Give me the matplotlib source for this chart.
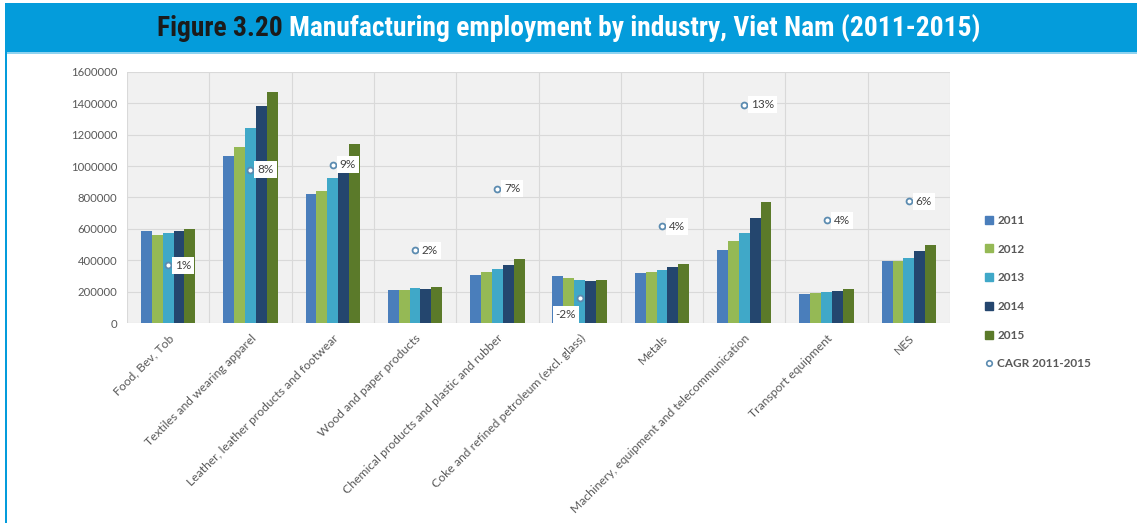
import matplotlib
matplotlib.use("Agg")
import matplotlib.pyplot as plt
from matplotlib.patches import Rectangle
from matplotlib.lines import Line2D
from matplotlib.ticker import FuncFormatter, MultipleLocator
from matplotlib import font_manager
import numpy as np

# ---- data -------------------------------------------------------------
industries = [
    "Food, Bev, Tob",
    "Textiles and wearing apparel",
    "Leather, leather products and footwear",
    "Wood and paper products",
    "Chemical products and plastic and rubber",
    "Coke and refined petroleum (excl. glass)",
    "Metals",
    "Machinery, equipment and telecommunication",
    "Transport equipment",
    "NES",
]
years = ["2011", "2012", "2013", "2014", "2015"]

emp_2011 = [586000, 1067000, 821000, 213000, 309000, 301000, 320000, 467000, 183000, 397000]
emp_2012 = [561000, 1120000, 840000, 209000, 326000, 288000, 324000, 523000, 192000, 397000]
emp_2013 = [576000, 1246000, 924000, 222000, 346000, 275000, 335000, 574000, 196000, 416000]
emp_2014 = [584000, 1382000, 1000000, 218000, 371000, 269000, 356000, 670000, 205000, 459000]
emp_2015 = [597000, 1474000, 1139000, 232000, 405000, 275000, 375000, 774000, 218000, 497000]

# compound annual growth rate 2011-2015 (fraction)
cagr = [0.006, 0.082, 0.086, 0.018, 0.067, -0.020, 0.037, 0.134, 0.042, 0.057]

series = [emp_2011, emp_2012, emp_2013, emp_2014, emp_2015]
bar_colors = ["#4a7ebb", "#95b955", "#40a8c8", "#24466e", "#5b7a2a"]
cagr_label = "CAGR 2011-2015"

# ---- styling ----------------------------------------------------------
BLUE = "#049cdb"
GREY = "#595959"
FONT = ["Lato", "DejaVu Sans"]
plt.rcParams["font.family"] = FONT


def first_available(candidates):
    for name in candidates:
        try:
            font_manager.findfont(font_manager.FontProperties(family=name),
                                  fallback_to_default=False)
            return name
        except Exception:
            continue
    return "DejaVu Sans"


title_family = first_available(["Liberation Sans Narrow", "Roboto Condensed",
                                "Open Sans Condensed", "DejaVu Sans Condensed",
                                "Noto Sans Condensed", "Roboto", "Open Sans"])

W, H = 1137, 523
fig = plt.figure(figsize=(W / 100, H / 100), dpi=100)

# header band and left rule
fig.patches.append(Rectangle((5 / W, 1 - 52 / H), 1 - 5 / W, 49 / H,
                             transform=fig.transFigure, facecolor=BLUE,
                             edgecolor="none", zorder=0))
fig.patches.append(Rectangle((5 / W, 0), 2.2 / W, 1 - 52 / H,
                             transform=fig.transFigure, facecolor=BLUE,
                             edgecolor="none", zorder=0))
fig.patches.append(Rectangle((7 / W, 1 - 53.5 / H), 1 - 7 / W, 1.5 / H,
                             transform=fig.transFigure, facecolor="#8fd3f0",
                             edgecolor="none", zorder=0))

# two-colour title, centred as a whole and fitted to the band
part1 = "Figure 3.20 "
part2 = "Manufacturing employment by industry, Viet Nam (2011-2015)"
ty = 1 - 28 / H
title_size = 20
t1 = fig.text(0, ty, part1, color="#1b1b1b", va="center", ha="left",
              family=[title_family, "DejaVu Sans"], fontsize=title_size,
              fontweight="bold")
t2 = fig.text(0, ty, part2, color="white", va="center", ha="left",
              family=[title_family, "DejaVu Sans"], fontsize=title_size,
              fontweight="bold")
renderer = fig.canvas.get_renderer()
total = (t1.get_window_extent(renderer).width
         + t2.get_window_extent(renderer).width)
target = 822.0
if total > target:
    title_size = title_size * target / total
    t1.set_fontsize(title_size)
    t2.set_fontsize(title_size)
w1 = t1.get_window_extent(renderer).width
w2 = t2.get_window_extent(renderer).width
x0 = 569 - (w1 + w2) / 2
t1.set_x(x0 / W)
t2.set_x((x0 + w1) / W)

# ---- main axes --------------------------------------------------------
ax = fig.add_axes([127 / W, 1 - 323 / H, (950 - 127) / W, (323 - 72) / H])
ax.set_facecolor("#f1f1f1")
x = np.arange(len(industries))
bw = 0.132
for i, (vals, col, yr) in enumerate(zip(series, bar_colors, years)):
    ax.bar(x + (i - 2) * bw, vals, width=bw, color=col, label=yr, zorder=2)

ax.set_xlim(-0.5, len(industries) - 0.5)
ax.set_ylim(0, 1600000)
ax.yaxis.set_major_locator(MultipleLocator(200000))
ax.yaxis.set_major_formatter(FuncFormatter(lambda v, p: f"{v:.0f}"))
ax.set_xticks(x)
ax.set_xticklabels(industries, rotation=45, ha="right", va="top",
                   rotation_mode="anchor", fontsize=8.7, color=GREY)
ax.set_xticks(np.arange(-0.5, len(industries), 1), minor=True)
ax.tick_params(axis="x", which="both", length=0, pad=7)
ax.tick_params(axis="y", length=0, pad=7, labelsize=8.2, labelcolor=GREY)
ax.grid(axis="y", which="major", color="#d9d9d9", linewidth=0.8, zorder=0)
ax.grid(axis="x", which="minor", color="#d9d9d9", linewidth=0.8, zorder=0)
ax.grid(axis="x", which="major", visible=False)
for s in ax.spines.values():
    s.set_visible(False)

# ---- CAGR on hidden secondary scale ------------------------------------
ax2 = ax.twinx()
ax2.set_ylim(-0.04, 0.16)
ax2.set_axis_off()
ax2.scatter(x, cagr, s=18, facecolor="white", edgecolor="#5b8bb0",
            linewidth=1.3, zorder=5)
for xi, v in zip(x, cagr):
    if v < 0:
        off, ha = (-10, -12), "center"
    else:
        off, ha = (5, 0), "left"
    ax2.annotate(f"{v:.0%}", (xi, v), xytext=off, textcoords="offset points",
                 ha=ha, va="center", fontsize=8.5, color="#404040",
                 bbox=dict(boxstyle="square,pad=0.25", facecolor="white",
                           edgecolor="none"), zorder=6)

# ---- legend -----------------------------------------------------------
handles = [Line2D([], [], linestyle="none", marker="s", markersize=5.5,
                  markerfacecolor=c, markeredgecolor=c) for c in bar_colors]
handles.append(Line2D([], [], linestyle="none", marker="o", markersize=4,
                      markerfacecolor="white", markeredgecolor="#5b8bb0",
                      markeredgewidth=1.2))
leg = fig.legend(handles, years + [cagr_label], loc="upper left",
                 bbox_to_anchor=(980 / W, 1 - 209 / H), frameon=False,
                 handlelength=0.6, handletextpad=0.35, labelspacing=1.5,
                 borderpad=0, prop=dict(family=FONT, size=8.5, weight="bold"))
for t in leg.get_texts():
    t.set_color(GREY)

fig.savefig("out.png", dpi=100, facecolor="white")
